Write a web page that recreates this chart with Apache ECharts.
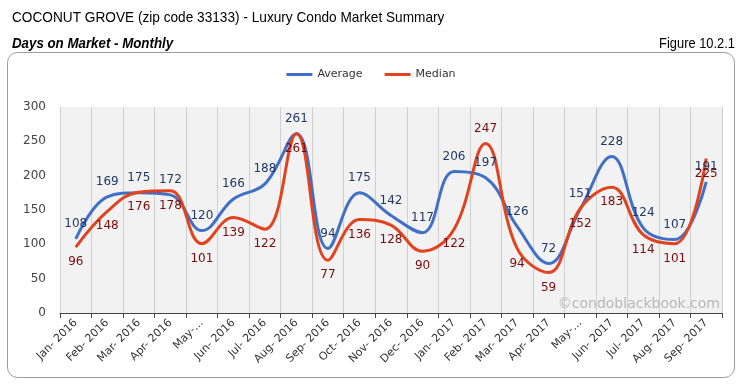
<!DOCTYPE html>
<html><head><meta charset="utf-8">
<script src="https://cdn.jsdelivr.net/npm/echarts@6/dist/echarts.min.js"></script>
<style>html,body{margin:0;padding:0;background:#fff}#c{width:742px;height:384px}</style>
</head><body><div id="c"></div>
<script>
const categories = ['Jan- 2016','Feb- 2016','Mar- 2016','Apr- 2016','May-…','Jun- 2016','Jul- 2016','Aug- 2016','Sep- 2016','Oct- 2016','Nov- 2016','Dec- 2016','Jan- 2017','Feb- 2017','Mar- 2017','Apr- 2017','May-…','Jun- 2017','Jul- 2017','Aug- 2017','Sep- 2017'];
const average = [108,169,175,172,120,166,188,261,94,175,142,117,206,197,126,72,151,228,124,107,191];
const median = [96,148,176,178,101,139,122,261,77,136,128,90,122,247,94,59,152,183,114,101,225];
const yTicks = [0,50,100,150,200,250,300];

// label placement exceptions (index -> position)
const medLabelPos = {13:'top'};

const chart = echarts.init(document.getElementById('c'));
chart.setOption({
  animation:false,
  graphic:[
    {type:'rect',shape:{x:7.5,y:52.5,width:727,height:325,r:10},style:{fill:'#fff',stroke:'#9a9a9a',lineWidth:1},z:-10},
    {type:'text',x:12,y:10,scaleX:0.91,style:{text:'COCONUT GROVE (zip code 33133) - Luxury Condo Market Summary',font:'15px "Liberation Sans", Arial',fill:'#000'}},
    {type:'text',x:12,y:37,scaleX:0.95,style:{text:'Days on Market - Monthly',font:'italic bold 14px "Liberation Sans", Arial',fill:'#000'}},
    {type:'text',x:735,y:37,scaleX:0.92,style:{text:'Figure 10.2.1',align:'right',font:'14px "Liberation Sans", Arial',fill:'#000'}},
    {type:'text',right:22,top:297,style:{text:'©condoblackbook.com',font:'14px "DejaVu Sans", Arial',fill:'#b8b8b8'},z:5}
  ],
  legend:{top:64,left:'center',itemWidth:26,itemHeight:3,itemGap:22,icon:'rect',
    textStyle:{fontFamily:'DejaVu Sans',fontSize:11,color:'#333'},data:['Average','Median']},
  grid:{left:60,right:20,top:107,bottom:71,show:true,backgroundColor:'#f2f2f2',borderWidth:0},
  xAxis:{type:'category',data:categories,boundaryGap:true,
    axisLine:{lineStyle:{color:'#444',width:1}},
    axisTick:{show:true,length:5,lineStyle:{color:'#444'}},
    splitLine:{show:true,lineStyle:{color:'#d0d0d0'}},
    axisLabel:{rotate:45,interval:0,fontFamily:'DejaVu Sans',fontSize:11,color:'#333',margin:8}},
  yAxis:{type:'value',min:0,max:300,interval:50,
    axisLine:{show:false},axisTick:{show:false},splitLine:{show:false},
    axisLabel:{fontFamily:'DejaVu Sans',fontSize:12,color:'#444',margin:14}},
  series:[
    {name:'Average',type:'line',smooth:0.4,data:average,
      symbol:'circle',symbolSize:0,showSymbol:true,
      lineStyle:{color:'#3f6fc7',width:3},itemStyle:{color:'#3f6fc7'},
      labelLayout:{hideOverlap:false},
      label:{show:true,position:'top',distance:9,fontFamily:'DejaVu Sans',fontSize:12,color:'#1f3864'}},
    {name:'Median',type:'line',smooth:0.4,
      data:median.map((v,i)=>medLabelPos[i]?{value:v,label:{position:medLabelPos[i]}}:v),
      symbol:'circle',symbolSize:0,showSymbol:true,
      lineStyle:{color:'#e0431d',width:3},itemStyle:{color:'#e0431d'},
      labelLayout:{hideOverlap:false},
      label:{show:true,position:'bottom',distance:9,fontFamily:'DejaVu Sans',fontSize:12,color:'#7b0a0a'}}
  ]
});
</script></body></html>
